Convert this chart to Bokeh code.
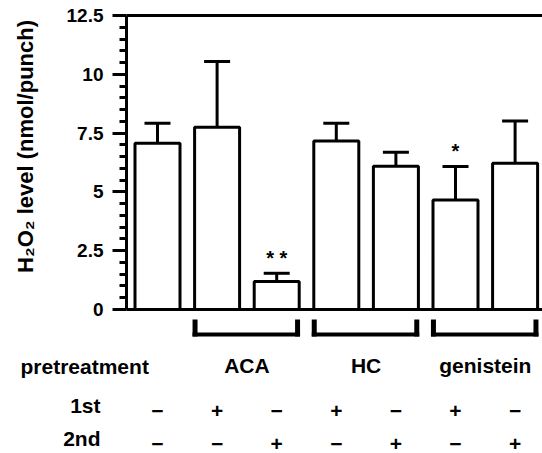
import math
from bokeh.plotting import figure
from bokeh.models import ColumnDataSource, Range1d, FixedTicker, LinearAxis, NumeralTickFormatter
from bokeh.core.properties import value
from bokeh.embed import file_html
from bokeh.resources import INLINE

# ---------------- data ----------------
bar_pos = [0, 1, 2, 3, 4, 5, 6]
means = [7.07, 7.75, 1.19, 7.16, 6.09, 4.66, 6.22]
err_top = [7.92, 10.54, 1.54, 7.92, 6.69, 6.08, 8.01]
sig = ["", "", "* *", "", "", "*", ""]
first_row = ["\u2212", "+", "\u2212", "+", "\u2212", "+", "\u2212"]
second_row = ["\u2212", "\u2212", "+", "\u2212", "+", "\u2212", "+"]
group_names = ["ACA", "HC", "genistein"]
group_first = [1, 3, 5]
group_last = [2, 4, 6]
y_ticks = [0, 2.5, 5, 7.5, 10, 12.5]
y_tick_labels = ["0", "2.5", "5", "7.5", "10", "12.5"]
y_minor = [0.5, 1, 1.5, 2, 3, 3.5, 4, 4.5, 5.5, 6, 6.5, 7, 8, 8.5, 9, 9.5,
           10.5, 11, 11.5, 12]
y_title = "H\u2082O\u2082 level (nmol/punch)"
row_title = "pretreatment"
row_names = ["1st", "2nd"]

# ---------------- layout constants (page pixels) ----------------
FONT = "Liberation Sans"
W, H = 542, 453
PX_Y = 23.52          # pixels per y unit
PX_X = 59.6           # pixels per bar slot
X0 = 157              # page x of first bar centre
Y0 = 309              # page y of value 0
AX_LEFT = 126         # page x of the y axis
TXT = dict(text_font=value(FONT), text_font_style="bold", text_color="black")


def xd(px):
    return (px - X0) / PX_X


def yd(py):
    return (Y0 - py) / PX_Y


p = figure(width=W, height=H, output_backend="svg", toolbar_location=None,
           x_range=Range1d(xd(0), xd(W)), y_range=Range1d(yd(H), yd(0)),
           x_axis_location=None, y_axis_location=None,
           min_border_left=0, min_border_right=0, min_border_top=0,
           min_border_bottom=0)
p.outline_line_color = None
p.grid.visible = False

ax = LinearAxis(fixed_location=xd(AX_LEFT), bounds=(0, 12.5),
                ticker=FixedTicker(ticks=y_ticks, minor_ticks=y_minor),
                formatter=NumeralTickFormatter(format="0.[0]"),
                major_label_overrides=dict(zip(y_ticks, y_tick_labels)))
ax.axis_line_width = 3
ax.axis_line_color = "black"
ax.major_tick_out = 14
ax.major_tick_in = 0
ax.major_tick_line_width = 3
ax.minor_tick_out = 7
ax.minor_tick_in = 0
ax.minor_tick_line_width = 3
ax.major_label_text_font = FONT
ax.major_label_text_font_style = "bold"
ax.major_label_text_font_size = "19px"
ax.major_label_text_color = "black"
ax.major_label_standoff = 9
p.add_layout(ax, "left")

# top frame line and zero line
p.segment(x0=[xd(AX_LEFT)] * 2, y0=[0, 12.5], x1=[xd(W)] * 2, y1=[0, 12.5],
          line_color="black", line_width=3)

cap = 13 / PX_X
src = ColumnDataSource(dict(x=bar_pos, top=means, err=err_top,
                            cl=[x - cap for x in bar_pos],
                            cr=[x + cap for x in bar_pos],
                            sy=[e + 0.64 for e in err_top], sig=sig))
p.segment(x0="x", y0="top", x1="x", y1="err", source=src, line_color="black",
          line_width=3)
p.segment(x0="cl", y0="err", x1="cr", y1="err", source=src, line_color="black",
          line_width=3)
p.vbar(x="x", top="top", bottom=0, width=45 / PX_X, source=src,
       fill_color="white", line_color="black", line_width=3)
p.text(x="x", y="sy", text="sig", source=src, text_align="center",
       text_baseline="alphabetic", text_font_size="20px", **TXT)

# y axis title
p.text(x=[xd(25)], y=[yd(146)], text=[y_title], angle=math.pi / 2,
       text_align="center", text_baseline="middle", text_font_size="22px", **TXT)

# ---------------- treatment table below ----------------
leg = 2.5 / PX_X
lefts = [a - 0.37 for a in group_first]
rights = [b + 0.35 for b in group_last]
p.quad(left=[l - leg for l in lefts] + [r - leg for r in rights],
       right=[l + leg for l in lefts] + [r + leg for r in rights],
       top=yd(319), bottom=yd(336), fill_color="black", line_color=None)
p.quad(left=[l - leg for l in lefts], right=[r + leg for r in rights],
       top=yd(332), bottom=yd(336), fill_color="black", line_color=None)

p.text(x=[(a + b) / 2 for a, b in zip(group_first, group_last)],
       y=[yd(365)] * len(group_names), text=group_names, text_align="center",
       text_baseline="alphabetic", text_font_size="21px", **TXT)
p.text(x=[xd(20)], y=[yd(366)], text=[row_title], text_align="left",
       text_baseline="alphabetic", text_font_size="21px", **TXT)
p.text(x=[xd(100)] * 2, y=[yd(405), yd(438)], text=row_names,
       text_align="right", text_baseline="alphabetic", text_font_size="21px",
       **TXT)
for signs, base in zip([first_row, second_row], [410, 443]):
    p.text(x=bar_pos, y=[yd(base)] * len(bar_pos), text=signs, text_align="center",
           text_baseline="alphabetic", text_font_size="21px", **TXT)

open("out.html", "w").write(file_html(p, INLINE))
